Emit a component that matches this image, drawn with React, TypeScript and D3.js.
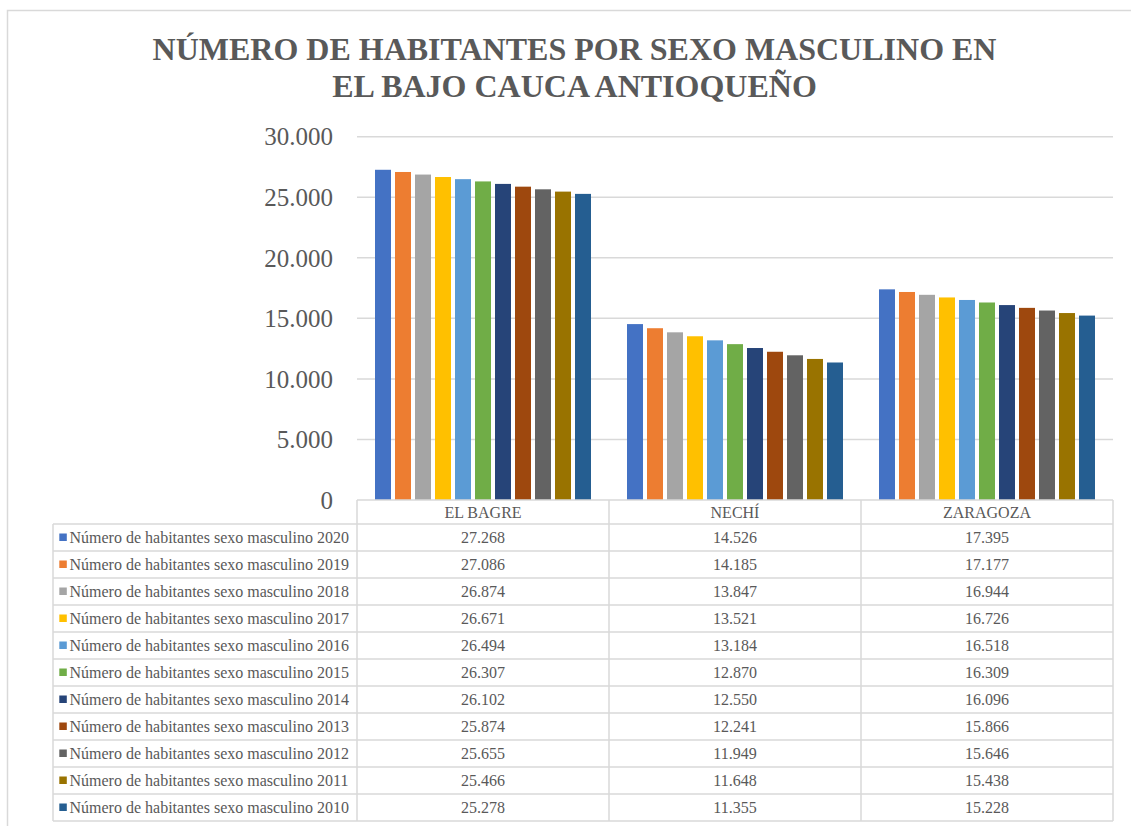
import React from "react";
import * as d3 from "d3";

const categories = ["EL BAGRE", "NECHÍ", "ZARAGOZA"];
const seriesNames = [
  "Número de habitantes sexo masculino 2020",
  "Número de habitantes sexo masculino 2019",
  "Número de habitantes sexo masculino 2018",
  "Número de habitantes sexo masculino 2017",
  "Número de habitantes sexo masculino 2016",
  "Número de habitantes sexo masculino 2015",
  "Número de habitantes sexo masculino 2014",
  "Número de habitantes sexo masculino 2013",
  "Número de habitantes sexo masculino 2012",
  "Número de habitantes sexo masculino 2011",
  "Número de habitantes sexo masculino 2010",
];
const elBagre = [27268, 27086, 26874, 26671, 26494, 26307, 26102, 25874, 25655, 25466, 25278];
const nechi = [14526, 14185, 13847, 13521, 13184, 12870, 12550, 12241, 11949, 11648, 11355];
const zaragoza = [17395, 17177, 16944, 16726, 16518, 16309, 16096, 15866, 15646, 15438, 15228];
const colors = [
  "#4472C4", "#ED7D31", "#A5A5A5", "#FFC000", "#5B9BD5", "#70AD47",
  "#264478", "#9E480E", "#636363", "#997300", "#255E91",
];
const yTicks = [0, 5000, 10000, 15000, 20000, 25000, 30000];
const titleLines = ["NÚMERO DE HABITANTES POR SEXO MASCULINO EN", "EL BAJO CAUCA ANTIOQUEÑO"];

const valuesByCategory = [elBagre, nechi, zaragoza];

const W = 1131;
const H = 826;
const plotLeft = 357;
const plotRight = 1113;
const plotTop = 136.7;
const plotBottom = 500;
const tableLeft = 53;
const headerH = 24;
const rowH = 27;
const textColor = "#595959";
const lineColor = "#D9D9D9";
const font = "'Liberation Serif', 'Times New Roman', serif";

const fmt = (v: number) => d3.format(",")(v).replace(/,/g, ".");

export default function App() {
  const x = d3.scaleBand<string>().domain(categories).range([plotLeft, plotRight]).padding(0);
  const bw = x.bandwidth();
  const pad = (bw - 216) / 2;
  const xs = d3.scaleBand<string>().domain(seriesNames).range([pad, bw - pad]).paddingInner(0.2);
  const y = d3.scaleLinear().domain([0, 30000]).range([plotBottom, plotTop]);

  const rowsTop = plotBottom + headerH;
  const tableBottom = rowsTop + rowH * seriesNames.length;

  return (
    <svg width={W} height={H} style={{ position: "absolute", left: 0, top: 0, background: "#fff" }} fontFamily={font}>
      <rect x={7.5} y={10.5} width={1140} height={830} fill="#fff" stroke={lineColor} strokeWidth={1.5} />
      {titleLines.map((t, i) => (
        <text key={i} x={574.5} y={60.3 + i * 36.5} textAnchor="middle" fontWeight="bold" fontSize={32} fill={textColor}>
          {t}
        </text>
      ))}
      {yTicks.map((t) => (
        <g key={t}>
          {t > 0 && <line x1={plotLeft} x2={plotRight} y1={y(t)} y2={y(t)} stroke={lineColor} strokeWidth={1.5} />}
          <text x={333} y={y(t)} dy="0.35em" textAnchor="end" fontSize={25} fill={textColor}>
            {fmt(t)}
          </text>
        </g>
      ))}
      {categories.map((c, ci) => (
        <g key={c} transform={`translate(${x(c)},0)`}>
          {seriesNames.map((s, si) => (
            <rect
              key={s}
              x={xs(s)}
              y={y(valuesByCategory[ci][si])}
              width={xs.bandwidth()}
              height={plotBottom - y(valuesByCategory[ci][si])}
              fill={colors[si]}
            />
          ))}
        </g>
      ))}
      <g stroke={lineColor} strokeWidth={1.5}>
        <line x1={plotLeft} x2={plotRight} y1={plotBottom} y2={plotBottom} />
        {d3.range(seriesNames.length + 1).map((i) => (
          <line key={i} x1={tableLeft} x2={plotRight} y1={rowsTop + i * rowH} y2={rowsTop + i * rowH} />
        ))}
        <line x1={tableLeft} x2={tableLeft} y1={rowsTop} y2={tableBottom} />
        {categories.map((c) => (
          <line key={c} x1={x(c)} x2={x(c)} y1={plotBottom} y2={tableBottom} />
        ))}
        <line x1={plotRight} x2={plotRight} y1={plotBottom} y2={tableBottom} />
      </g>
      {categories.map((c) => (
        <text key={c} x={(x(c) as number) + bw / 2} y={plotBottom + headerH / 2} dy="0.35em" textAnchor="middle" fontSize={16} fill={textColor}>
          {c}
        </text>
      ))}
      {seriesNames.map((s, si) => {
        const cy = rowsTop + si * rowH + rowH / 2;
        return (
          <g key={s}>
            <rect x={59.3} y={cy - 4} width={7.5} height={7.5} fill={colors[si]} />
            <text x={69.5} y={cy} dy="0.35em" fontSize={16} fill={textColor}>
              {s}
            </text>
            {categories.map((c, ci) => (
              <text key={c} x={(x(c) as number) + bw / 2} y={cy} dy="0.35em" textAnchor="middle" fontSize={16} fill={textColor}>
                {fmt(valuesByCategory[ci][si])}
              </text>
            ))}
          </g>
        );
      })}
    </svg>
  );
}
